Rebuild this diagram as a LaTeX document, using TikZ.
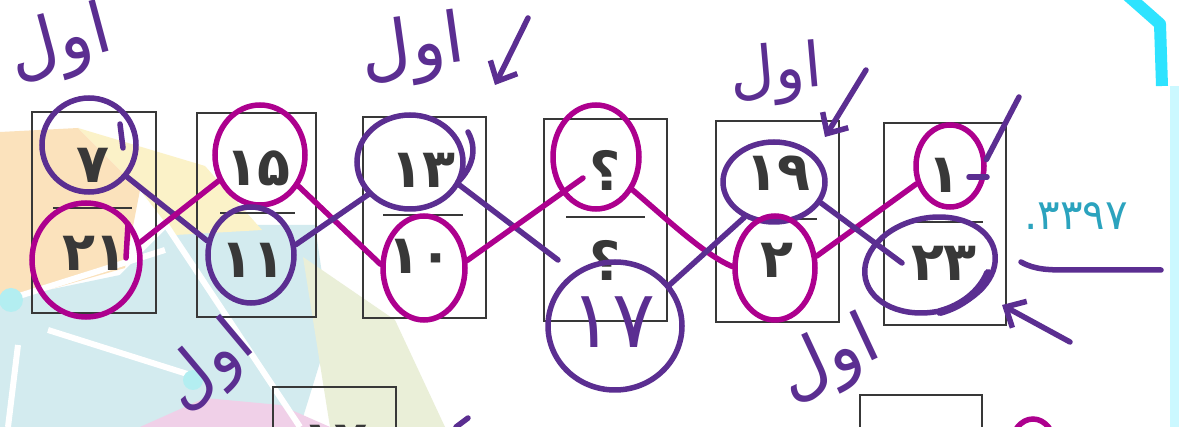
\documentclass[tikz,border=0pt]{standalone}
\usepackage{fontspec}
\setmainfont{DejaVu Sans}
\newfontfamily\arabicfont[Script=Arabic]{DejaVu Sans}
\newfontfamily\digitfont{DejaVu Sans}
\TeXXeTstate=1
\usetikzlibrary{shapes.geometric,arrows.meta}
\definecolor{pur}{HTML}{5B2E91}
\definecolor{mag}{HTML}{AD008E}
\definecolor{ink}{HTML}{383838}
\definecolor{qteal}{HTML}{2BA3BE}
\definecolor{cyanb}{HTML}{2EE3FF}
\definecolor{bgorange}{HTML}{FBE2BC}
\definecolor{bgyellow}{HTML}{FBF2C8}
\definecolor{bgblue}{HTML}{D3EBEF}
\definecolor{bgpink}{HTML}{F0D0E8}
\definecolor{bggreen}{HTML}{EAEFD8}
\begin{document}
\begin{tikzpicture}[x=1pt,y=-1pt,
  hand/.style={line width=5.5pt,line cap=round,line join=round},
  pl/.style={hand,draw=pur},
  ml/.style={hand,draw=mag},
  pc/.style={ellipse,draw=pur,line width=5.5pt,inner sep=0pt},
  mc/.style={ellipse,draw=mag,line width=5.5pt,inner sep=0pt},
  numbox/.style={draw=ink,line width=1.8pt,inner sep=0pt},
  fracline/.style={draw=ink,line width=2.4pt},
  num/.style={text=ink,font=\digitfont\bfseries\fontsize{54}{60}\selectfont,inner sep=0pt},
  word/.style={text=pur,inner sep=0pt},
  barb/.style={-{Straight Barb[length=16pt,width=30pt]}},
]
\useasboundingbox (0,0) rectangle (1179,427);
\fill[white] (0,0) rectangle (1179,427);
% faint background logo
\fill[bgblue] (0,300) -- (120,275) -- (170,225) -- (315,225) -- (330,330) -- (300,427) -- (0,427) -- cycle;
\fill[bgorange] (0,132) -- (78,128) -- (140,190) -- (125,268) -- (30,295) -- (0,298) -- cycle;
\fill[bgyellow] (78,128) -- (205,166) -- (262,230) -- (175,235) -- (140,190) -- cycle;
\fill[bggreen] (303,257) -- (395,320) -- (445,427) -- (330,427) -- cycle;
\fill[bgpink] (140,427) -- (205,398) -- (280,405) -- (330,427) -- cycle;
\draw[white,line width=6pt] (0,302) -- (165,250);
\draw[white,line width=6pt] (48,330) -- (200,378);
\draw[white,line width=6pt] (166,225) -- (300,427);
\draw[white,line width=6pt] (18,345) -- (8,427);
\fill[bgblue!85!cyan] (11,300) circle (12);
\fill[bgblue!85!cyan] (193,380) circle (10);
% cyan frame at the right
\draw[cyanb,line width=12pt,line join=round] (1126,-6) -- (1160,24) -- (1162,86);
\fill[cyanb!25] (1170,86) rectangle (1179,427);
% printed boxes
\node[numbox,minimum width=124pt,minimum height=201pt] (b1) at (94,212.5) {};
\node[numbox,minimum width=119pt,minimum height=204pt] (b2) at (256.5,215) {};
\node[numbox,minimum width=123pt,minimum height=201pt] (b3) at (424.5,217.5) {};
\node[numbox,minimum width=123pt,minimum height=202pt] (b4) at (605.5,220) {};
\node[numbox,minimum width=123pt,minimum height=201pt] (b5) at (777.5,221.5) {};
\node[numbox,minimum width=122pt,minimum height=202pt] (b6) at (945,224) {};
\node[numbox,minimum width=123pt,minimum height=80pt] (b7) at (334.5,427) {};
\node[numbox,minimum width=122pt,minimum height=80pt] (b8) at (921,435) {};
\draw[fracline] (53,208) -- (132,208);
\draw[fracline] (220,213) -- (295,213);
\draw[fracline] (383,215) -- (463,215);
\draw[fracline] (566,217) -- (645,217);
\draw[fracline] (750,219) -- (817,219);
\draw[fracline] (906,222) -- (983,222);
% printed numbers
\node[num] (n1t) at (93,165) {۷};
\node[num] (n1b) at (95,253) {۲۱};
\node[num] (n2t) at (258,168) {۱۵};
\node[num] (n2b) at (253,260) {۱۱};
\node[num] (n3t) at (423,170) {۱۳};
\node[num] (n3b) at (420,256) {۱۰};
\node[num] (n4t) at (605,170) {؟};
\node[num] (n4b) at (605,260) {؟};
\node[num] (n5t) at (778,173) {۱۹};
\node[num] (n5b) at (777,260) {۲};
\node[num] (n6t) at (944,175) {۱};
\node[num] (n6b) at (944,263) {۲۳};
\node[num] (n7t) at (335,442) {۱۷};
\node[text=qteal,font=\digitfont\fontsize{42}{46}\selectfont,inner sep=0pt] (qn) at (1076,216) {.۳۳۹۷};
% hand-drawn circles
\node[pc,minimum width=94pt,minimum height=94pt] (c7) at (89,145) {};
\node[mc,minimum width=108pt,minimum height=114pt] (c21) at (86,260) {};
\node[mc,minimum width=90pt,minimum height=100pt] (c15) at (260,155) {};
\node[pc,minimum width=86pt,minimum height=96pt] (c11) at (251,255) {};
\node[pc,minimum width=106pt,minimum height=94pt] (c13) at (410,162) {};
\node[mc,minimum width=82pt,minimum height=104pt] (c10) at (424,268) {};
\node[mc,minimum width=86pt,minimum height=104pt] (cq) at (596,157) {};
\node[pc,minimum width=134pt,minimum height=128pt] (c17) at (615,326) {};
\node[pc,minimum width=102pt,minimum height=80pt] (c19) at (774,182) {};
\node[mc,minimum width=80pt,minimum height=104pt] (c2) at (775,268) {};
\node[mc,minimum width=68pt,minimum height=82pt] (c1) at (950,166) {};
\node[pc,minimum width=132pt,minimum height=94pt,rotate=12] (c23) at (930,265) {};
\node[mc,minimum width=44pt,minimum height=56pt] (c9) at (1033,447) {};
% handwritten 17
\node[text=pur,font=\digitfont\fontsize{80}{90}\selectfont,inner sep=0pt] (h17) at (613,322) {۱۷};
% zigzag connectors
\draw[pl] (c7.-40) -- (c11.162);
\draw[ml] (c21.18) -- (c15.212);
\draw[ml] (c15.-39) -- (c10.175);
\draw[pl] (c11.13) -- (c13.218);
\coordinate (e2) at (558,260);
\draw[pl] (c13.-25) -- (e2);
\coordinate (f2) at (583,178);
\draw[ml] (c10.10) -- (f2);
\draw[ml] (cq.-42) .. controls (670,222) and (705,255) .. (c2.178);
\draw[pl] (c17.37) -- (c19.230);
\draw[ml] (c2.16) -- (c1.208);
\coordinate (j2) at (902,263);
\draw[pl] (c19.-24) -- (j2);
% small strokes
\draw[pl] (120,124) -- (123,148);
\draw[ml] (128,224) -- (126,258);
\draw[pl] (468,132) .. controls (478,150) and (472,168) .. (458,182);
\draw[pl,line width=8pt] (940,312) .. controls (962,306) and (980,292) .. (988,273);
% labels "first"
\node[word,rotate=15,font=\arabicfont\fontsize{70}{80}\selectfont] (l1) at (60,46) {\beginR اول\endR};
\node[word,rotate=8,font=\arabicfont\fontsize{70}{80}\selectfont] (l2) at (413,50) {\beginR اول\endR};
\node[word,rotate=5,font=\arabicfont\fontsize{62}{70}\selectfont] (l3) at (776,74) {\beginR اول\endR};
\node[word,rotate=40,font=\arabicfont\fontsize{66}{70}\selectfont] (l4) at (209,367) {\beginR اول\endR};
\node[word,rotate=25,font=\arabicfont\fontsize{70}{76}\selectfont] (l5) at (829,361) {\beginR اول\endR};
% arrows
\coordinate (a2s) at (528,18); \coordinate (a2e) at (495,85);
\draw[pl,barb] (a2s) -- (a2e);
\coordinate (a3s) at (866,70); \coordinate (a3e) at (825,137);
\draw[pl,barb] (a3s) -- (a3e);
\coordinate (a6s) at (1070,342); \coordinate (a6e) at (1002,305);
\draw[pl,barb] (a6s) -- (a6e);
\coordinate (a1s) at (1019,97);
\draw[pl] (a1s) -- (c1.10);
\draw[pl] (969,177) -- (987,177);
\coordinate (u1) at (1021,262); \coordinate (u2) at (1161,270);
\draw[pl] (u1) .. controls (1035,270) and (1050,270) .. (1070,270) -- (u2);
\draw[pl] (456,427) -- (468,418);
\end{tikzpicture}
\end{document}
